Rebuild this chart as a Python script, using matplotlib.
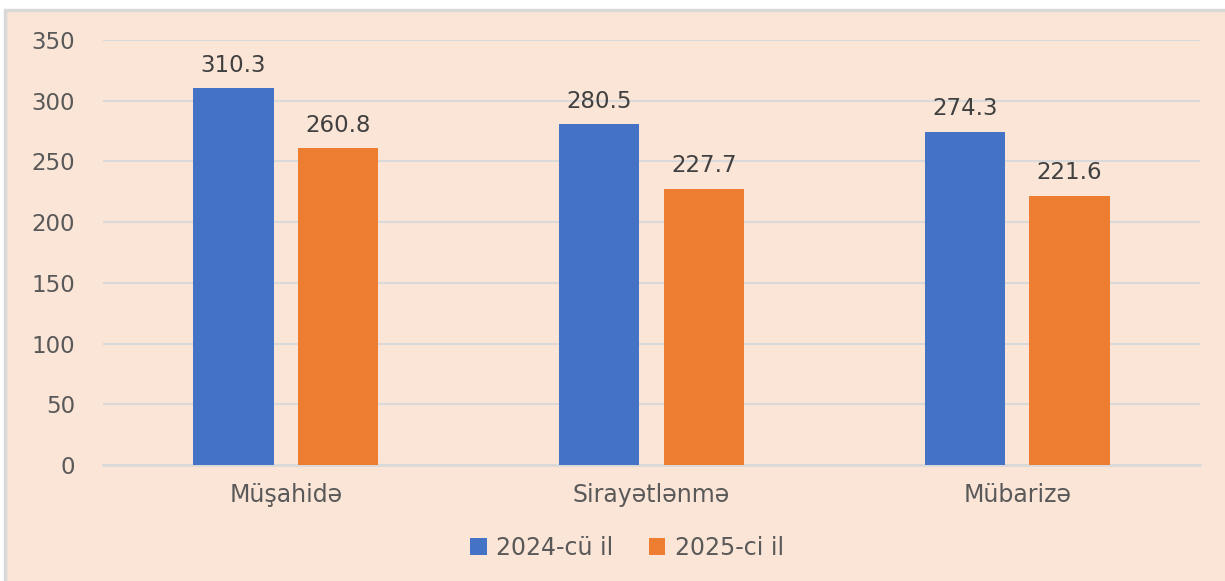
import matplotlib
matplotlib.use("Agg")
import matplotlib.pyplot as plt
import numpy as np
from matplotlib.patches import Rectangle, Patch

categories = ["Müşahidə", "Sirayətlənmə", "Mübarizə"]
series_names = ["2024-cü il", "2025-ci il"]
vals_2024 = [310.3, 280.5, 274.3]
vals_2025 = [260.8, 227.7, 221.6]
yticks = [0, 50, 100, 150, 200, 250, 300, 350]

blue = "#4472C4"
orange = "#ED7D31"
bg = "#FBE5D6"
txt = "#595959"
grid_c = "#D9D9D9"

plt.rcParams['font.family'] = ['DejaVu Sans']

fig = plt.figure(figsize=(12.25, 5.81), dpi=100, facecolor="white")
# chart area background with thin gray frame (cropped at right/bottom)
fig.patches.append(Rectangle((5 / 1225, -0.01), 1.0, 1 - 10 / 581 + 0.01,
                             transform=fig.transFigure, facecolor=bg,
                             edgecolor=grid_c, linewidth=2.5, zorder=-10))

ax = fig.add_axes([103 / 1225, 116 / 581, 1097 / 1225, 425 / 581])
ax.set_facecolor("none")

x = np.arange(len(categories))
w = 0.22
off = 0.143
b1 = ax.bar(x - off, vals_2024, w, color=blue, zorder=3, label=series_names[0])
b2 = ax.bar(x + off, vals_2025, w, color=orange, zorder=3, label=series_names[1])

for bars, vals in ((b1, vals_2024), (b2, vals_2025)):
    for rect, v in zip(bars, vals):
        ax.annotate(f"{v:.1f}", (rect.get_x() + rect.get_width() / 2, v),
                    xytext=(0, 12), textcoords="offset points",
                    ha="center", va="baseline", fontsize=16.5, color="#404040")

ax.set_xlim(-0.5, 2.5)
ax.set_ylim(0, 350)
ax.set_yticks(yticks)
ax.set_yticklabels([str(t) for t in yticks])
ax.set_xticks(x)
ax.set_xticklabels(categories)
ax.tick_params(axis="y", length=0, pad=20, labelsize=16.5, labelcolor=txt)
ax.tick_params(axis="x", length=0, pad=13, labelsize=17, labelcolor=txt)
ax.grid(axis="y", color=grid_c, linewidth=1.5, zorder=0)
for s in ("top", "right", "left"):
    ax.spines[s].set_visible(False)
ax.spines["bottom"].set_color(grid_c)
ax.spines["bottom"].set_linewidth(1.8)

handles = [Patch(facecolor=blue), Patch(facecolor=orange)]
fig.legend(handles, series_names, loc="center",
           bbox_to_anchor=(627 / 1225, 1 - 548 / 581), ncol=2, frameon=False,
           fontsize=17, labelcolor=txt, handlelength=0.7, handleheight=0.7,
           handletextpad=0.4, columnspacing=1.5)

fig.savefig("out.png", dpi=100, facecolor=fig.get_facecolor())
